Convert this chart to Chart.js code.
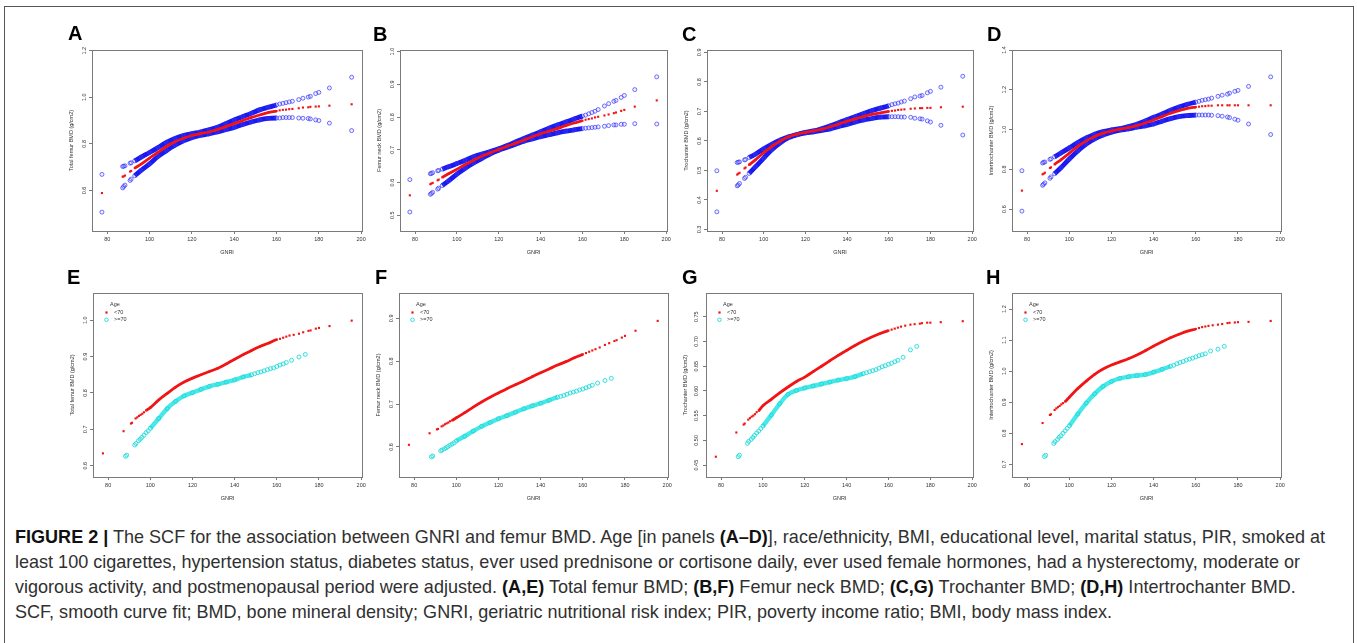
<!DOCTYPE html>
<html>
<head>
<meta charset="utf-8">
<script src="https://cdn.jsdelivr.net/npm/chart.js@4.4.1/dist/chart.umd.min.js"></script>
<style>
  body { margin: 0; background: #fff; width: 1357px; height: 643px; overflow: hidden; position: relative; }
  #frame { position: absolute; left: 4px; top: 6px; width: 1348px; height: 700px; border: 1.5px solid #555; border-bottom: none; }
  .panel { position: absolute; }
  .letter { position: absolute; font: bold 20px/20px "Liberation Sans", Arial, sans-serif; color: #000; }
  #caption { position: absolute; left: 15px; top: 524px; font-family: "Liberation Sans Narrow", "Arial Narrow", "Liberation Sans", sans-serif;
             font-size: 19px; line-height: 25px; color: #303030; white-space: nowrap; transform-origin: 0 0; }
  #caption div { display: block; }
  #caption span.l { display: inline-block; }
  #caption b { color: #111; }
</style>
</head>
<body>
<div id="frame"></div>
<div id="caption">
  <div><span class="l" id="cap1"><b>FIGURE 2 |</b> The SCF for the association between GNRI and femur BMD. Age [in panels <b>(A–D)</b>], race/ethnicity, BMI, educational level, marital status, PIR, smoked at</span></div>
  <div><span class="l">least 100 cigarettes, hypertension status, diabetes status, ever used prednisone or cortisone daily, ever used female hormones, had a hysterectomy, moderate or</span></div>
  <div><span class="l">vigorous activity, and postmenopausal period were adjusted. <b>(A,E)</b> Total femur BMD; <b>(B,F)</b> Femur neck BMD; <b>(C,G)</b> Trochanter BMD; <b>(D,H)</b> Intertrochanter BMD.</span></div>
  <div><span class="l">SCF, smooth curve fit; BMD, bone mineral density; GNRI, geriatric nutritional risk index; PIR, poverty income ratio; BMI, body mass index.</span></div>
</div>
<script>
// ---- x values (GNRI) ----
var gnriTicks = [80, 100, 120, 140, 160, 180, 200];
var gnriAll = [77.5, 87.3, 87.8, 88.4, 90.8, 91.3, 93, 96, 100, 104, 108, 112, 116, 120, 124, 128, 132, 136, 140, 144,
               148, 152, 156, 160, 161.5, 163, 164.5, 166, 167.5, 170.5, 172.5, 175, 176, 178.5, 180, 185, 195.5];
var gnriYoung = [77.5, 87.3, 90.8, 91.3, 93, 93.8, 94.6, 95.4, 96.2, 97, 98, 100, 104, 108, 112, 116, 120, 124, 128, 132,
                 136, 140, 144, 148, 152, 156, 160, 161.5, 163, 164.5, 166, 168, 170.5, 172.5, 175, 176, 178.5, 180, 185, 195.5];
var gnriOld = [88.2, 88.8, 92.6, 93.2, 94.4, 95.2, 96, 97, 98, 99, 100, 104, 108, 112, 116, 120, 124, 128, 132, 136,
               140, 144, 148, 149.5, 151, 152.5, 154, 155.5, 157, 158.5, 160, 161.5, 163, 164.5, 167, 170.5, 173.5];

// ---- A: total femur ----
var upperA = [0.669, 0.703, 0.704, 0.706, 0.717, 0.719, 0.727, 0.743, 0.763, 0.784, 0.806, 0.823, 0.836, 0.844, 0.851, 0.860, 0.871, 0.887, 0.903, 0.917,
              0.931, 0.946, 0.957, 0.967, 0.971, 0.974, 0.977, 0.980, 0.983, 0.990, 0.996, 1.001, 1.004, 1.016, 1.021, 1.040, 1.086];
var fitA = [0.589, 0.659, 0.661, 0.664, 0.681, 0.684, 0.696, 0.713, 0.739, 0.764, 0.789, 0.809, 0.824, 0.836, 0.844, 0.851, 0.861, 0.874, 0.887, 0.900,
            0.913, 0.924, 0.934, 0.941, 0.944, 0.946, 0.947, 0.949, 0.950, 0.953, 0.956, 0.957, 0.959, 0.960, 0.961, 0.964, 0.970];
var lowerA = [0.507, 0.611, 0.617, 0.623, 0.643, 0.649, 0.663, 0.686, 0.714, 0.746, 0.771, 0.794, 0.813, 0.827, 0.836, 0.843, 0.851, 0.861, 0.871, 0.883,
              0.894, 0.903, 0.909, 0.911, 0.911, 0.913, 0.913, 0.913, 0.913, 0.911, 0.910, 0.909, 0.907, 0.903, 0.900, 0.889, 0.857];
// ---- B: femur neck ----
var upperB = [0.609, 0.627, 0.628, 0.630, 0.636, 0.637, 0.641, 0.648, 0.658, 0.668, 0.679, 0.687, 0.695, 0.703, 0.713, 0.724, 0.735, 0.745, 0.755, 0.766,
              0.776, 0.785, 0.794, 0.803, 0.806, 0.810, 0.814, 0.818, 0.823, 0.834, 0.841, 0.848, 0.851, 0.860, 0.866, 0.884, 0.923];
var fitB = [0.561, 0.595, 0.597, 0.599, 0.607, 0.609, 0.616, 0.627, 0.641, 0.655, 0.668, 0.681, 0.691, 0.701, 0.711, 0.720, 0.730, 0.740, 0.749, 0.757,
            0.765, 0.774, 0.782, 0.789, 0.792, 0.794, 0.796, 0.799, 0.801, 0.805, 0.808, 0.812, 0.814, 0.819, 0.822, 0.832, 0.851];
var lowerB = [0.510, 0.564, 0.567, 0.570, 0.580, 0.583, 0.591, 0.605, 0.626, 0.644, 0.660, 0.674, 0.688, 0.699, 0.708, 0.717, 0.726, 0.733, 0.740, 0.746,
              0.752, 0.757, 0.761, 0.765, 0.766, 0.767, 0.768, 0.769, 0.770, 0.772, 0.774, 0.776, 0.776, 0.778, 0.778, 0.780, 0.779];
// ---- C: trochanter ----
var upperC = [0.499, 0.527, 0.528, 0.529, 0.536, 0.537, 0.544, 0.555, 0.573, 0.589, 0.603, 0.614, 0.622, 0.629, 0.634, 0.642, 0.651, 0.662, 0.673, 0.683,
              0.693, 0.703, 0.711, 0.719, 0.723, 0.726, 0.728, 0.732, 0.735, 0.743, 0.749, 0.752, 0.754, 0.763, 0.768, 0.782, 0.819];
var fitC = [0.431, 0.486, 0.489, 0.492, 0.507, 0.510, 0.519, 0.536, 0.560, 0.582, 0.600, 0.614, 0.623, 0.629, 0.634, 0.640, 0.648, 0.657, 0.667, 0.675,
            0.683, 0.690, 0.695, 0.700, 0.702, 0.703, 0.705, 0.706, 0.707, 0.709, 0.710, 0.711, 0.711, 0.712, 0.712, 0.714, 0.716];
var lowerC = [0.360, 0.448, 0.451, 0.456, 0.473, 0.477, 0.490, 0.512, 0.542, 0.571, 0.594, 0.611, 0.621, 0.627, 0.631, 0.636, 0.641, 0.649, 0.656, 0.664,
              0.671, 0.676, 0.681, 0.682, 0.682, 0.682, 0.682, 0.681, 0.681, 0.680, 0.677, 0.675, 0.674, 0.668, 0.664, 0.653, 0.620];
// ---- D: intertrochanter ----
var upperD = [0.793, 0.832, 0.835, 0.837, 0.850, 0.853, 0.863, 0.882, 0.908, 0.935, 0.958, 0.977, 0.990, 0.998, 1.005, 1.015, 1.027, 1.043, 1.062, 1.078,
              1.097, 1.113, 1.127, 1.138, 1.142, 1.147, 1.150, 1.153, 1.158, 1.167, 1.173, 1.178, 1.183, 1.192, 1.197, 1.217, 1.265];
var fitD = [0.693, 0.775, 0.778, 0.783, 0.807, 0.810, 0.825, 0.848, 0.882, 0.915, 0.943, 0.965, 0.982, 0.993, 1.002, 1.010, 1.020, 1.033, 1.048, 1.065,
            1.082, 1.095, 1.107, 1.113, 1.115, 1.117, 1.118, 1.120, 1.120, 1.122, 1.122, 1.122, 1.122, 1.122, 1.122, 1.122, 1.122];
var lowerD = [0.590, 0.720, 0.725, 0.732, 0.755, 0.762, 0.778, 0.808, 0.852, 0.892, 0.927, 0.953, 0.972, 0.987, 0.997, 1.003, 1.012, 1.018, 1.028, 1.042,
              1.055, 1.065, 1.070, 1.073, 1.073, 1.073, 1.073, 1.073, 1.072, 1.070, 1.067, 1.063, 1.060, 1.052, 1.047, 1.028, 0.975];

// ---- E-H: by age (<70 / >=70) ----
var youngE = [0.634, 0.695, 0.716, 0.718, 0.730, 0.733, 0.737, 0.740, 0.743, 0.747, 0.752, 0.760, 0.781, 0.799, 0.816, 0.830, 0.841, 0.850, 0.859, 0.868,
              0.880, 0.893, 0.905, 0.917, 0.928, 0.937, 0.947, 0.949, 0.952, 0.955, 0.958, 0.960, 0.963, 0.967, 0.971, 0.972, 0.977, 0.979, 0.984, 0.999];
var oldE = [0.626, 0.629, 0.657, 0.661, 0.669, 0.673, 0.678, 0.684, 0.691, 0.696, 0.703, 0.730, 0.757, 0.777, 0.792, 0.801, 0.810, 0.818, 0.824, 0.830,
            0.836, 0.844, 0.850, 0.853, 0.856, 0.858, 0.861, 0.864, 0.867, 0.869, 0.873, 0.877, 0.880, 0.884, 0.890, 0.899, 0.906];
var youngF = [0.605, 0.632, 0.641, 0.642, 0.648, 0.650, 0.653, 0.655, 0.657, 0.660, 0.662, 0.668, 0.680, 0.693, 0.705, 0.716, 0.726, 0.736, 0.745, 0.754,
              0.764, 0.773, 0.782, 0.791, 0.799, 0.808, 0.816, 0.819, 0.822, 0.825, 0.828, 0.832, 0.838, 0.842, 0.847, 0.849, 0.855, 0.859, 0.871, 0.894];
var oldF = [0.577, 0.579, 0.591, 0.593, 0.596, 0.598, 0.601, 0.604, 0.607, 0.610, 0.614, 0.625, 0.637, 0.648, 0.657, 0.666, 0.673, 0.681, 0.689, 0.696,
            0.702, 0.709, 0.716, 0.718, 0.720, 0.723, 0.726, 0.728, 0.730, 0.733, 0.735, 0.738, 0.741, 0.744, 0.749, 0.755, 0.760];
var youngG = [0.467, 0.516, 0.532, 0.534, 0.542, 0.545, 0.548, 0.550, 0.553, 0.557, 0.560, 0.570, 0.583, 0.596, 0.608, 0.619, 0.628, 0.639, 0.650, 0.661,
              0.672, 0.682, 0.692, 0.701, 0.709, 0.716, 0.722, 0.724, 0.726, 0.728, 0.730, 0.732, 0.734, 0.735, 0.736, 0.737, 0.738, 0.738, 0.739, 0.741];
var oldG = [0.467, 0.470, 0.494, 0.498, 0.502, 0.506, 0.510, 0.515, 0.519, 0.524, 0.529, 0.551, 0.574, 0.593, 0.601, 0.606, 0.610, 0.614, 0.618, 0.622,
            0.625, 0.629, 0.635, 0.637, 0.639, 0.641, 0.643, 0.646, 0.649, 0.651, 0.654, 0.656, 0.659, 0.662, 0.668, 0.683, 0.690];
var youngH = [0.765, 0.833, 0.859, 0.861, 0.875, 0.880, 0.884, 0.888, 0.893, 0.897, 0.902, 0.916, 0.944, 0.968, 0.990, 1.007, 1.020, 1.030, 1.040, 1.052,
              1.066, 1.081, 1.095, 1.108, 1.119, 1.129, 1.136, 1.139, 1.142, 1.144, 1.146, 1.148, 1.150, 1.152, 1.155, 1.156, 1.157, 1.158, 1.159, 1.162];
var oldH = [0.725, 0.729, 0.767, 0.773, 0.780, 0.787, 0.792, 0.800, 0.808, 0.816, 0.824, 0.862, 0.897, 0.927, 0.951, 0.967, 0.977, 0.982, 0.986, 0.989,
            0.997, 1.006, 1.016, 1.019, 1.024, 1.028, 1.031, 1.036, 1.039, 1.042, 1.046, 1.050, 1.053, 1.056, 1.065, 1.071, 1.080];

// ---- y tick labels ----
var ticksA = [0.6, 0.8, 1.0, 1.2];
var ticksB = [0.5, 0.6, 0.7, 0.8, 0.9, 1.0];
var ticksC = [0.3, 0.4, 0.5, 0.6, 0.7, 0.8, 0.9];
var ticksD = [0.6, 0.8, 1.0, 1.2, 1.4];
var ticksE = [0.6, 0.7, 0.8, 0.9, 1.0];
var ticksF = [0.6, 0.7, 0.8, 0.9];
var ticksG = [0.45, 0.50, 0.55, 0.60, 0.65, 0.70, 0.75];
var ticksH = [0.7, 0.8, 0.9, 1.0, 1.1, 1.2];

var ageLabels = ['<70', '>=70'];

// =============================================================================
var RED = 'rgb(242,20,20)';
var BLUE = 'rgb(25,25,240)';
var CYAN = 'rgb(70,232,232)';
var AXIS = '#7a7a7a';
var TXT = '#333';

var panels = [
  { id: 'A', left: 92,   right: 362,  top: 50,  bottom: 231, yMin: 0.426, yMax: 1.203, ticks: ticksA, dec: 1, title: 'Total femur BMD (g/cm2)',       ci: [fitA, upperA, lowerA] },
  { id: 'B', left: 400,  right: 667,  top: 50,  bottom: 231, yMin: 0.452, yMax: 1.005, ticks: ticksB, dec: 1, title: 'Femur neck BMD (g/cm2)',        ci: [fitB, upperB, lowerB] },
  { id: 'C', left: 707,  right: 973,  top: 50,  bottom: 231, yMin: 0.295, yMax: 0.908, ticks: ticksC, dec: 1, title: 'Trochanter BMD (g/cm2)',        ci: [fitC, upperC, lowerC] },
  { id: 'D', left: 1012, right: 1281, top: 50,  bottom: 231, yMin: 0.490, yMax: 1.400, ticks: ticksD, dec: 1, title: 'Intertrochanter BMD (g/cm2)',   ci: [fitD, upperD, lowerD] },
  { id: 'E', left: 93,   right: 362,  top: 293, bottom: 477, yMin: 0.569, yMax: 1.075, ticks: ticksE, dec: 1, title: 'Total femur BMD (g/cm2)',       age: [youngE, oldE] },
  { id: 'F', left: 399,  right: 668,  top: 293, bottom: 477, yMin: 0.530, yMax: 0.959, ticks: ticksF, dec: 1, title: 'Femur neck BMD (g/cm2)',        age: [youngF, oldF] },
  { id: 'G', left: 706,  right: 973,  top: 293, bottom: 477, yMin: 0.426, yMax: 0.798, ticks: ticksG, dec: 2, title: 'Trochanter BMD (g/cm2)',        age: [youngG, oldG] },
  { id: 'H', left: 1012, right: 1281, top: 293, bottom: 477, yMin: 0.659, yMax: 1.252, ticks: ticksH, dec: 1, title: 'Intertrochanter BMD (g/cm2)',   age: [youngH, oldH] }
];
var letterPos = { A: [68, 23], B: [373, 24], C: [682, 24], D: [987, 24], E: [67, 267], F: [375, 267], G: [682, 267], H: [986, 267] };

function pts(xs, ys) {
  return xs.map((x, i) => ({ x: x, y: ys[i] }));
}

// draw the joining band only where the points sit close together
function solidBetween(xs, color, lo, hi) {
  return {
    borderColor: c => (xs[c.p0DataIndex] >= lo && xs[c.p1DataIndex] <= hi) ? color : 'rgba(0,0,0,0)'
  };
}

function series(xs, ys, kind, lo, hi) {
  var s = {
    data: pts(xs, ys),
    showLine: true,
    cubicInterpolationMode: 'monotone',
    clip: false
  };
  if (kind === 'fit' || kind === 'young') {
    Object.assign(s, { borderColor: RED, borderWidth: 2.8, pointStyle: 'rect', pointRadius: 1.5,
      pointBackgroundColor: RED, pointBorderColor: RED, pointBorderWidth: 0 });
    s.segment = solidBetween(xs, RED, lo, hi);
  } else if (kind === 'ci') {
    Object.assign(s, { borderColor: BLUE, borderWidth: 4.8, pointStyle: 'circle', pointRadius: 2,
      pointBackgroundColor: 'rgba(120,120,255,0.12)', pointBorderColor: 'rgba(50,50,250,0.68)', pointBorderWidth: 1 });
    s.segment = solidBetween(xs, BLUE, lo, hi);
  } else {
    Object.assign(s, { borderColor: CYAN, borderWidth: 4.4, pointStyle: 'circle', pointRadius: 2,
      pointBackgroundColor: 'rgba(120,240,240,0.12)', pointBorderColor: 'rgba(20,215,215,0.8)', pointBorderWidth: 1 });
    s.segment = solidBetween(xs, CYAN, lo, hi);
  }
  return s;
}

var boxPlugin = {
  id: 'rbox',
  afterDraw(chart) {
    var a = chart.chartArea, ctx = chart.ctx;
    ctx.save();
    ctx.strokeStyle = AXIS;
    ctx.lineWidth = 1;
    ctx.strokeRect(Math.round(a.left) + 0.5, Math.round(a.top) + 0.5, Math.round(a.right - a.left), Math.round(a.bottom - a.top));
    ctx.restore();
  }
};

var ageLegend = {
  id: 'ageLegend',
  afterDraw(chart) {
    if (!chart.options.plugins.ageLegend.show) return;
    var a = chart.chartArea, ctx = chart.ctx;
    var x0 = a.left, y0 = a.top;
    ctx.save();
    ctx.font = '5.5px Arial, "Liberation Sans", sans-serif';
    ctx.fillStyle = TXT;
    ctx.textBaseline = 'middle';
    ctx.fillText('Age', x0 + 17, y0 + 11);
    ctx.fillText(ageLabels[0], x0 + 21, y0 + 19.5);
    ctx.fillText(ageLabels[1], x0 + 21, y0 + 26.8);
    ctx.fillStyle = RED;
    ctx.fillRect(x0 + 12.4, y0 + 18.4, 2.2, 2.2);
    ctx.strokeStyle = 'rgba(20,215,215,0.85)';
    ctx.lineWidth = 1;
    ctx.beginPath();
    ctx.arc(x0 + 13.5, y0 + 26.8, 1.8, 0, Math.PI * 2);
    ctx.stroke();
    ctx.restore();
  }
};

function makePanel(p) {
  var padTop = 10, padRight = 12, yW = 32, xH = 32;
  var W = p.right - p.left, H = p.bottom - p.top;
  var cw = W + yW + padRight, ch = H + padTop + xH;

  var wrap = document.createElement('div');
  wrap.className = 'panel';
  wrap.style.left = (p.left - yW) + 'px';
  wrap.style.top = (p.top - padTop) + 'px';
  var canvas = document.createElement('canvas');
  canvas.width = cw; canvas.height = ch;
  canvas.style.width = cw + 'px'; canvas.style.height = ch + 'px';
  wrap.appendChild(canvas);
  document.body.appendChild(wrap);

  var letter = document.createElement('div');
  letter.className = 'letter';
  letter.textContent = p.id;
  letter.style.left = letterPos[p.id][0] + 'px';
  letter.style.top = letterPos[p.id][1] + 'px';
  document.body.appendChild(letter);

  var datasets;
  if (p.ci) {
    datasets = [
      series(gnriAll, p.ci[0], 'fit', 93, 160),
      series(gnriAll, p.ci[1], 'ci', 93, 160),
      series(gnriAll, p.ci[2], 'ci', 93, 160)
    ];
  } else {
    datasets = [
      series(gnriYoung, p.age[0], 'young', 98, 160),
      series(gnriOld, p.age[1], 'old', 100, 148)
    ];
  }

  var tickFont = { size: 5.5, family: 'Arial, "Liberation Sans", sans-serif' };
  var grid = { display: true, drawOnChartArea: false, drawTicks: true, tickLength: 3, color: AXIS, lineWidth: 1 };

  new Chart(canvas, {
    type: 'scatter',
    data: { datasets: datasets },
    options: {
      responsive: false,
      animation: false,
      events: [],
      layout: { padding: { top: padTop, right: padRight, left: 0, bottom: 0 } },
      plugins: { legend: { display: false }, tooltip: { enabled: false }, ageLegend: { show: !!p.age } },
      scales: {
        x: {
          type: 'linear', min: 72.8, max: 200.4,
          afterBuildTicks: s => { s.ticks = gnriTicks.map(v => ({ value: v })); },
          afterFit: s => { s.height = xH; },
          grid: grid,
          border: { display: false },
          ticks: { font: tickFont, color: TXT, padding: 2, maxRotation: 0, autoSkip: false, callback: v => String(v) },
          title: { display: true, text: 'GNRI', font: tickFont, color: TXT, padding: { top: 0, bottom: 7 } }
        },
        y: {
          type: 'linear', min: p.yMin, max: p.yMax,
          afterBuildTicks: s => { s.ticks = p.ticks.map(v => ({ value: v })); },
          afterFit: s => { s.width = yW; },
          grid: grid,
          border: { display: false },
          ticks: { font: tickFont, color: TXT, padding: 1, minRotation: 90, maxRotation: 90, crossAlign: 'center',
                   autoSkip: false, callback: v => v.toFixed(p.dec) },
          title: { display: true, text: p.title, font: tickFont, color: TXT, padding: { top: 8, bottom: 0 } }
        }
      }
    },
    plugins: [boxPlugin, ageLegend]
  });
}

panels.forEach(makePanel);

// squeeze the caption to the narrow face used in the journal layout
var cap = document.getElementById('caption');
var firstLine = document.getElementById('cap1');
var w = firstLine.getBoundingClientRect().width;
cap.style.transform = 'scaleX(' + (1310 / w).toFixed(4) + ')';
</script>
</body>
</html>
